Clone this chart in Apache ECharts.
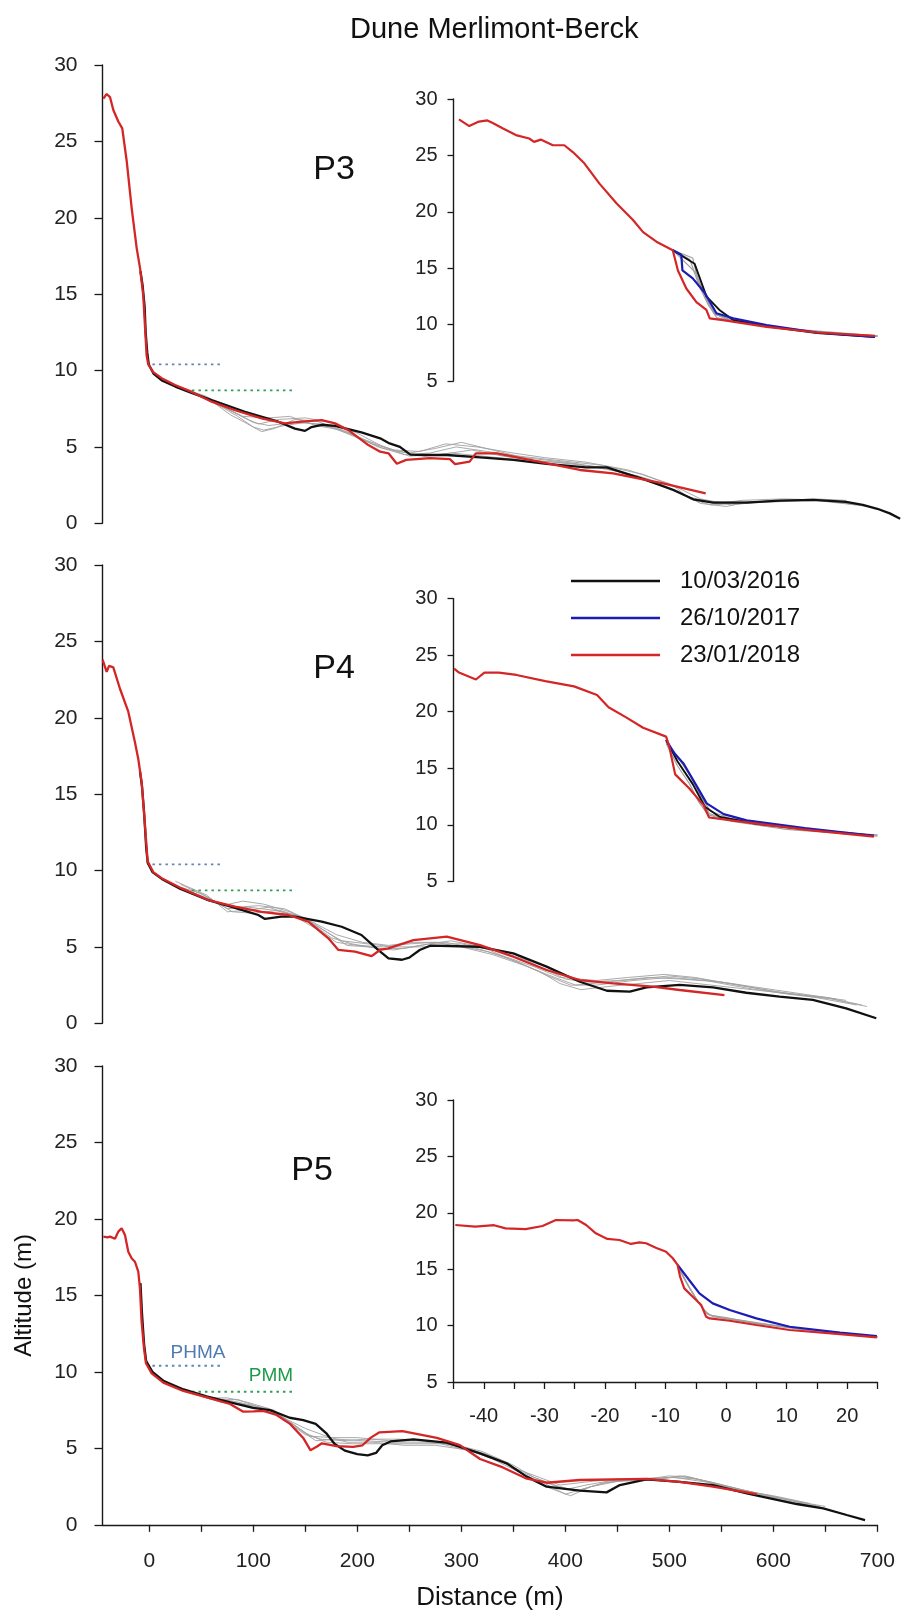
<!DOCTYPE html>
<html><head><meta charset="utf-8">
<script src="https://cdn.jsdelivr.net/npm/echarts@6/dist/echarts.min.js"></script>
<style>html,body{margin:0;padding:0;background:#fff}#chart{width:901px;height:1614px}</style>
</head><body><div id="chart"></div>
<script>
// ---------------- DATA ----------------
const chartTitle = 'Dune Merlimont-Berck';
const dates = ['10/03/2016', '26/10/2017', '23/01/2018'];
const panelNames = ['P3', 'P4', 'P5'];
const mainXTicks = [0, 50, 100, 150, 200, 250, 300, 350, 400, 450, 500, 550, 600, 650, 700];
const mainXLabels = [0, 100, 200, 300, 400, 500, 600, 700];
const xAxisTitle = 'Distance (m)';
const yAxisTitle = 'Altitude (m)';
const phmaName = 'PHMA', pmmName = 'PMM';
const phmaLevel = 10.4, pmmLevel = 8.7;
const phmaSpan = [3, 71];
const pmmSpan = [41, 140];

// P3 main
const p3Red = [[-44.2,27.8],[-41,28.1],[-37.8,27.9],[-34.6,27.05],[-29.8,26.3],[-26,25.85],[-21.7,23.7],[-16.9,20.6],[-12.1,18.0],[-8.9,16.7],[-5.8,14.9],[-2.6,11.0],[-1,10.4],[3.8,9.9],[11.9,9.5],[24.7,9.05],[40.8,8.6],[60,7.96],[82.4,7.4],[108,6.87],[130.5,6.54],[146.5,6.65],[165.8,6.76],[178.6,6.54],[191.4,6.1],[210.6,5.12],[222,4.69],[230,4.58],[238,3.9],[247,4.15],[270,4.26],[289,4.2],[294,3.87],[308,4.04],[314,4.58],[334,4.58],[366,4.15],[414,3.49],[446,3.27],[494,2.62],[535,1.96]];
const p3Black = [[-8.5,16.5],[-6.5,15.6],[-4.5,14.2],[-3.5,12.5],[-2,11.2],[-0.5,10.4],[4,9.8],[12,9.35],[25,8.95],[40,8.55],[60,8.06],[92,7.3],[124,6.65],[140,6.2],[149.7,6.05],[156,6.3],[165.8,6.45],[178.6,6.38],[204,5.95],[222,5.56],[231,5.23],[241,5.0],[251,4.5],[264,4.47],[286,4.47],[318,4.32],[350,4.15],[382,3.89],[420,3.66],[440,3.66],[478,2.83],[504,2.18],[523,1.57],[542,1.35],[574,1.35],[606,1.48],[638,1.53],[670,1.4],[686,1.2],[700,0.95],[712,0.65],[722,0.3]];
const p3Grey1 = [[20,9.2],[45,8.5],[70,7.6],[85,7.0],[100,6.3],[110,6.1],[130,6.4],[150,6.6],[175,6.3],[200,5.6],[225,4.9],[250,4.6],[275,4.9],[300,5.3],[330,4.8],[360,4.3],[400,4.0],[440,3.6],[480,2.9],[510,2.0],[530,1.3],[555,1.1],[575,1.4],[620,1.5],[660,1.5],[680,1.3]];
const p3Grey2 = [[30,8.9],[55,8.3],[80,7.3],[95,6.8],[105,6.5],[125,6.8],[150,6.9],[175,6.6],[200,5.9],[225,5.0],[250,4.4],[280,4.5],[310,4.8],[340,4.4],[370,4.1],[410,3.9],[450,3.4],[490,2.5],[520,1.7],[545,1.3],[570,1.5],[610,1.6],[650,1.5],[690,1.1]];
const p3Grey3 = [[35,8.8],[60,8.0],[78,7.1],[92,6.6],[108,6.0],[120,6.2],[140,6.8],[160,6.7],[190,6.0],[215,5.2],[240,4.7],[265,4.4],[290,4.6],[320,4.4],[350,4.2],[390,4.0],[430,3.7],[470,3.1],[505,2.2],[525,1.5],[550,1.4],[590,1.4],[640,1.6],[670,1.5]];
const p3Grey4 = [[40,8.6],[65,7.8],[90,7.0],[115,6.9],[135,7.0],[160,6.4],[185,6.1],[210,5.4],[235,4.8],[260,4.7],[285,5.2],[315,5.0],[350,4.6],[380,4.3],[420,4.0],[460,3.5],[500,2.6],[530,1.6],[560,1.2],[600,1.5],[640,1.5],[680,1.2]];
const p3Grey5 = [[25,9.0],[50,8.4],[75,7.5],[100,6.6],[115,6.4],[140,6.6],[165,6.5],[195,5.8],[220,5.0],[245,4.5],[270,4.6],[295,5.0],[325,4.7],[355,4.4],[395,4.1],[435,3.8],[475,3.2],[505,2.4],[520,1.6],[540,1.2],[565,1.3],[600,1.4],[645,1.5],[685,1.2]];

// P3 inset
const p3InRed = [[-44.1,28.2],[-42.4,27.6],[-40.8,28.0],[-39.4,28.1],[-38.6,27.9],[-36.9,27.4],[-34.7,26.8],[-32.5,26.5],[-31.7,26.2],[-30.6,26.4],[-28.6,25.9],[-26.7,25.9],[-25.3,25.3],[-23.4,24.3],[-20.9,22.5],[-18.1,20.75],[-15.4,19.3],[-13.7,18.2],[-11.5,17.35],[-8.8,16.6],[-7.95,14.8],[-6.56,13.2],[-4.9,12.0],[-3.25,11.3],[-2.7,10.55],[-0.5,10.4],[6.7,9.8],[15,9.3],[24.6,9.0]];
const p3InBlue = [[-8.8,16.6],[-7.4,16.2],[-7.2,14.8],[-5.5,14.1],[-3.5,12.8],[-1.6,11.0],[1.2,10.55],[6.7,9.96],[15,9.3],[24.6,8.9]];
const p3InBlack = [[-8.8,16.6],[-5.2,15.4],[-3.25,12.5],[-1.1,11.3],[1.2,10.4],[6.7,9.85],[15,9.25],[24.6,8.9]];
const p3InGrey1 = [[-8.8,16.6],[-6,15.8],[-4.5,13.5],[-3,11.8],[-1.5,10.6],[3,10.2],[10,9.6],[18,9.2],[25,9.0]];
const p3InGrey2 = [[-8.8,16.6],[-5,14.6],[-3.5,12.5],[-2,11.0],[0,10.5],[8,9.8],[16,9.3],[25,8.95]];
const p3InGrey3 = [[-8.8,16.6],[-5.5,15.9],[-4.7,14.0],[-3.2,12.3],[-1.8,10.9],[1,10.4],[9,9.7],[25,9.0]];

// P4 main
const p4Red = [[-44.9,23.8],[-44.2,23.7],[-41,23.0],[-38.7,23.4],[-34.6,23.3],[-28.2,21.9],[-20.2,20.4],[-13.8,18.4],[-10.6,17.3],[-7.4,15.8],[-4.2,13.0],[-1.6,10.6],[3.8,9.9],[11.9,9.5],[31.2,8.83],[56.8,8.07],[82.4,7.63],[108,7.3],[133.7,7.09],[152.9,6.65],[172.2,5.56],[181.8,4.8],[197.8,4.69],[213.8,4.4],[221.8,4.8],[229.8,4.91],[254,5.45],[286,5.67],[318,5.12],[350,4.36],[382,3.49],[414,2.83],[446,2.62],[484,2.4],[510,2.18],[553,1.85]];
const p4Black = [[-9,16.5],[-7,15.5],[-5,13.8],[-3,11.5],[-1.5,10.5],[3,9.9],[12,9.45],[30,8.8],[55,8.1],[80,7.6],[95,7.3],[104.8,7.09],[111.2,6.83],[127,6.98],[140,6.98],[165.8,6.65],[185,6.32],[204,5.78],[220,4.8],[230,4.25],[243,4.16],[250,4.3],[260,4.8],[270,5.08],[318,5.01],[350,4.58],[382,3.71],[414,2.72],[440,2.13],[462,2.07],[478,2.35],[510,2.51],[542,2.35],[574,2.0],[606,1.74],[638,1.53],[670,0.98],[699,0.33]];
const p4Grey1 = [[25,9.3],[35,9.0],[55,8.4],[75,7.3],[95,7.4],[115,7.6],[140,7.0],[160,6.2],[180,5.3],[200,5.1],[225,5.0],[250,5.2],[275,5.3],[300,5.0],[330,4.5],[360,3.8],[390,3.0],[410,2.5],[440,2.7],[470,2.9],[500,3.1],[530,2.9],[560,2.6],[600,2.1],[640,1.7],[680,1.2]];
const p4Grey2 = [[30,8.9],[50,8.5],[70,7.7],[90,8.0],[110,7.8],[135,7.3],[155,6.6],[175,5.6],[195,5.2],[220,4.9],[245,4.9],[270,5.2],[300,5.2],[330,4.8],[360,4.2],[385,3.4],[400,2.9],[420,2.7],[450,2.8],[480,3.0],[510,2.9],[550,2.7],[590,2.3],[630,1.9],[670,1.5]];
const p4Grey3 = [[40,8.6],[60,8.1],[80,7.3],[100,7.2],[125,7.4],[150,6.9],[170,6.0],[190,5.1],[210,5.0],[235,4.8],[260,5.1],[290,5.4],[320,5.0],[350,4.1],[375,3.4],[395,2.6],[415,2.2],[440,2.4],[470,2.6],[500,2.8],[540,2.5],[580,2.2],[620,1.9],[660,1.6]];
const p4Grey4 = [[45,8.4],[65,7.9],[85,7.6],[105,7.7],[130,7.5],[155,6.7],[180,5.8],[205,5.3],[230,5.1],[255,5.3],[285,5.3],[315,4.9],[345,4.3],[370,3.7],[395,3.0],[430,2.8],[460,3.0],[495,3.2],[525,3.0],[565,2.5],[610,2.0],[650,1.7],[685,1.2]];
const p4Grey5 = [[30,9.1],[55,8.3],[75,7.5],[95,7.6],[120,7.4],[145,7.0],[165,6.2],[185,5.4],[210,5.2],[235,5.0],[265,5.0],[295,5.1],[325,4.7],[355,4.0],[380,3.2],[405,2.5],[430,2.5],[465,2.8],[500,3.0],[535,2.8],[575,2.3],[615,1.9],[655,1.6],[690,1.1]];

// P4 inset
const p4InRed = [[-44.9,23.8],[-44.1,23.46],[-41.3,22.85],[-39.9,23.46],[-37.5,23.46],[-34.6,23.25],[-29.85,22.7],[-25.1,22.24],[-21.3,21.48],[-19.4,20.4],[-16.5,19.5],[-13.7,18.58],[-9.9,17.8],[-9.4,16.96],[-8.4,14.46],[-6.1,13.24],[-3.7,11.72],[-2.8,10.65],[1.5,10.35],[13,9.58],[24.4,8.96]];
const p4InBlue = [[-9.9,17.5],[-8.5,16.3],[-7,15.4],[-4.6,13.2],[-3.2,11.9],[-0.4,10.95],[3.4,10.4],[13,9.72],[24.4,9.02]];
const p4InBlack = [[-9.9,17.5],[-8,15.6],[-5.5,13.6],[-3.5,11.6],[-1,10.7],[5,10.1],[15,9.5],[24.4,9.05]];
const p4InGrey1 = [[-9.9,17.3],[-7.5,15.6],[-5.5,14.0],[-4,12.3],[-2.8,11.0],[0,10.5],[8,9.9],[16,9.4],[25,9.1]];
const p4InGrey2 = [[-9.9,17.2],[-8,15.2],[-6,13.6],[-4.5,12.0],[-3,10.9],[1,10.3],[10,9.6],[25,9.0]];
const p4InGrey3 = [[-9.9,17.4],[-7.8,15.9],[-6.2,14.6],[-4.2,12.6],[-2.6,11.2],[0.5,10.6],[10,9.8],[25,9.1]];

// P5 main
const p5Red = [[-44.2,18.84],[-40,18.8],[-37.8,18.84],[-33,18.7],[-29.8,19.17],[-26.6,19.39],[-23.4,18.95],[-20.2,17.86],[-17,17.43],[-13.8,17.2],[-10.6,16.55],[-9,15.47],[-7.4,13.28],[-5.1,11.54],[-3.2,10.56],[2.3,9.9],[13.5,9.3],[32.7,8.75],[52,8.4],[77.6,7.9],[90.4,7.4],[100,7.42],[109.6,7.45],[122.4,7.18],[135.3,6.6],[148,5.68],[154.9,4.88],[160.9,5.1],[166,5.33],[180,5.15],[196,5.1],[205,5.2],[213,5.7],[221.3,6.05],[243.4,6.13],[276.5,5.68],[298.6,5.21],[318,4.3],[340,3.75],[362,3.04],[382,2.75],[414,2.93],[478,3.0],[510,2.81],[542,2.49],[584,2.01]];
const p5Black = [[-8.5,15.8],[-7,13.8],[-5,11.8],[-3,10.7],[3,10.0],[14,9.4],[33,8.85],[55,8.4],[78,8.0],[99.7,7.65],[116.2,7.5],[135,7.0],[148,6.85],[160,6.6],[170,6.0],[178,5.3],[188,4.85],[200,4.62],[210,4.54],[218,4.7],[224,5.2],[232,5.45],[254,5.59],[286,5.37],[318,4.67],[343.6,4.02],[362.8,3.15],[382,2.49],[414,2.23],[439.7,2.12],[452.5,2.6],[478,2.97],[510,2.81],[542,2.6],[574.5,2.06],[622.5,1.36],[648,1.08],[670.6,0.64],[688.2,0.31]];
const p5Grey1 = [[40,8.6],[60,8.2],[80,8.1],[100,7.8],[120,7.5],[135,6.6],[150,5.9],[165,5.6],[185,5.5],[210,5.6],[240,5.6],[270,5.5],[300,5.1],[330,4.3],[360,3.3],[380,2.7],[400,2.0],[415,2.3],[440,2.8],[470,2.9],[500,3.2],[520,3.1],[550,2.6],[580,2.1],[610,1.6],[640,1.2]];
const p5Grey2 = [[45,8.5],[65,8.2],[85,8.2],[105,7.7],[125,7.2],[145,6.2],[160,5.5],[180,5.6],[205,5.5],[235,5.4],[265,5.4],[295,5.2],[325,4.6],[355,3.6],[375,3.1],[395,2.6],[420,2.8],[450,3.0],[480,2.9],[510,3.2],[540,2.8],[570,2.3],[600,1.8],[630,1.4]];
const p5Grey3 = [[50,8.4],[70,8.0],[90,7.9],[110,7.6],[130,7.0],[150,6.0],[170,5.4],[195,5.3],[220,5.3],[250,5.3],[280,5.3],[310,4.8],[340,4.1],[365,3.1],[385,2.4],[405,1.9],[425,2.5],[455,2.9],[490,3.0],[515,3.2],[545,2.7],[575,2.2],[610,1.7],[645,1.2]];
const p5Grey4 = [[40,8.7],[60,8.3],[75,8.3],[95,8.0],[115,7.6],[140,6.5],[155,5.8],[175,5.7],[200,5.7],[230,5.5],[260,5.5],[290,5.3],[320,4.8],[350,3.9],[370,3.1],[390,2.6],[410,2.2],[435,2.7],[465,3.0],[500,3.1],[525,3.0],[555,2.5],[590,2.0],[625,1.5],[650,1.2]];
const p5Grey5 = [[55,8.3],[75,8.1],[95,7.8],[115,7.4],[135,6.8],[150,6.3],[170,5.8],[190,5.4],[215,5.4],[245,5.2],[275,5.2],[305,4.9],[335,4.3],[360,3.4],[380,2.8],[400,2.3],[420,2.6],[445,2.9],[480,3.0],[505,3.1],[535,2.8],[565,2.3],[600,1.9],[635,1.4]];

// P5 inset
const p5InRed = [[-44.7,18.92],[-41.4,18.77],[-38.3,18.9],[-36.4,18.62],[-33.1,18.56],[-30.3,18.83],[-28.1,19.36],[-25.3,19.33],[-24.5,19.36],[-23.1,18.92],[-21.5,18.18],[-19.6,17.68],[-17.6,17.59],[-15.7,17.24],[-14.3,17.38],[-13.2,17.3],[-11.6,16.9],[-9.9,16.55],[-8.8,15.97],[-8.0,15.38],[-7.6,14.34],[-6.9,13.3],[-5.5,12.56],[-4.1,11.82],[-3.3,10.79],[-2.7,10.64],[0.6,10.43],[5.0,10.05],[10.5,9.61],[18.8,9.25],[24.9,8.96]];
const p5InBlue = [[-8.0,15.38],[-6.1,14.04],[-4.4,12.86],[-2.2,11.97],[0.6,11.38],[5.0,10.64],[10.5,9.9],[18.8,9.37],[24.9,9.08]];
const p5InGrey1 = [[-8,15.4],[-6.5,13.8],[-5,12.4],[-3.5,11.3],[-2.5,10.9],[0,10.7],[6,10.1],[15,9.5],[25,9.0]];
const p5InGrey2 = [[-7.5,14.8],[-6,13.3],[-4.5,12.0],[-3,11.0],[-1,10.7],[5,10.2],[25,9.0]];
const p5InGrey3 = [[-7.8,15.0],[-6.2,13.5],[-4.7,12.2],[-3.2,11.1],[-2.2,10.8],[2,10.5],[12,9.7],[25,9.0]];

// ---------------- STYLE / LAYOUT ----------------
const FONT = '"Liberation Sans", Arial, Helvetica, sans-serif';
const C_BLACK = '#111111', C_BLUE = '#1c1cb4', C_RED = '#d42626', C_GREY = '#a0a0a0';
const C_PHMA = '#5f86b3', C_PMM = '#2f9e57', C_PHMA_TXT = '#4f7bb0', C_PMM_TXT = '#1f9a4a';

// P3's hidden distance axis is stretched past 700 m so its last profile reaches the page edge, as in the source figure
const X_MIN = -45, X_MAX = 700, X_MAX_P3 = 722;
const PX_PER_M = 774.8 / (X_MAX - X_MIN);
const mainGrids = [
  {left: 102.5, top: 65, width: PX_PER_M * (X_MAX_P3 - X_MIN), height: 458.3},
  {left: 102.5, top: 565, width: 774.8, height: 458.3},
  {left: 102.5, top: 1066, width: 774.8, height: 458.8}
];
const insetGrids = [
  {left: 453.5, top: 99, width: 424, height: 282},
  {left: 453.5, top: 598.6, width: 424, height: 282.8},
  {left: 453.5, top: 1100, width: 424, height: 282}
];

const axisLineStyle = {lineStyle: {color: '#1a1a1a', width: 1.4}};
const grid = [];
mainGrids.concat(insetGrids).forEach(g => grid.push(Object.assign({containLabel: false, outerBoundsMode: 'none'}, g)));

const xAxis = [], yAxis = [];
for (let i = 0; i < 3; i++) {
  const isLast = i === 2;
  xAxis.push({
    type: 'value', gridIndex: i, min: X_MIN, max: i === 0 ? X_MAX_P3 : X_MAX, show: isLast,
    splitLine: {show: false},
    axisLine: Object.assign({onZero: false}, axisLineStyle),
    axisTick: {show: true, length: 7, customValues: mainXTicks, lineStyle: {color: '#1a1a1a', width: 1.3}},
    axisLabel: {customValues: mainXLabels, margin: 26, fontSize: 21, color: '#222', fontFamily: FONT},
    name: isLast ? xAxisTitle : '', nameLocation: 'middle', nameGap: 60,
    nameTextStyle: {fontSize: 26, color: '#111', fontFamily: FONT}
  });
  yAxis.push({
    type: 'value', gridIndex: i, min: 0, max: 30, interval: 5,
    splitLine: {show: false},
    axisLine: Object.assign({show: true, onZero: false}, axisLineStyle),
    axisTick: {show: true, length: 8, lineStyle: {color: '#1a1a1a', width: 1.3}},
    axisLabel: {margin: 25, fontSize: 21, color: '#222', fontFamily: FONT},
    name: isLast ? yAxisTitle : '', nameLocation: 'middle', nameGap: 66, nameRotate: 90,
    nameTextStyle: {fontSize: 24, color: '#111', fontFamily: FONT}
  });
}
for (let i = 0; i < 3; i++) {
  const isLast = i === 2;
  xAxis.push({
    type: 'value', gridIndex: 3 + i, min: -45, max: 25, interval: 5, show: isLast,
    splitLine: {show: false},
    axisLine: Object.assign({onZero: false}, axisLineStyle),
    axisTick: {show: true, length: 7, lineStyle: {color: '#1a1a1a', width: 1.3}},
    axisLabel: {margin: 24, fontSize: 20, color: '#222', fontFamily: FONT,
      formatter: v => (Math.round(v) % 10 === 0 ? String(v) : '')}
  });
  yAxis.push({
    type: 'value', gridIndex: 3 + i, min: 5, max: 30, interval: 5,
    splitLine: {show: false},
    axisLine: Object.assign({show: true, onZero: false}, axisLineStyle),
    axisTick: {show: true, length: 6, lineStyle: {color: '#1a1a1a', width: 1.3}},
    axisLabel: {margin: 16, fontSize: 20, color: '#222', fontFamily: FONT}
  });
}

function ln(name, data, idx, color, width, z, extra) {
  return Object.assign({
    type: 'line', name: name, data: data, xAxisIndex: idx, yAxisIndex: idx,
    showSymbol: false, symbol: 'none', silent: true, animation: false,
    lineStyle: {color: color, width: width}, itemStyle: {color: color},
    emphasis: {disabled: true}, z: z
  }, extra || {});
}

const mainSets = [
  {grey: [p3Grey1, p3Grey2, p3Grey3, p3Grey4, p3Grey5], black: p3Black, red: p3Red},
  {grey: [p4Grey1, p4Grey2, p4Grey3, p4Grey4, p4Grey5], black: p4Black, red: p4Red},
  {grey: [p5Grey1, p5Grey2, p5Grey3, p5Grey4, p5Grey5], black: p5Black, red: p5Red}
];
const insetSets = [
  {grey: [p3InGrey1, p3InGrey2, p3InGrey3], black: p3InBlack, blue: p3InBlue, red: p3InRed},
  {grey: [p4InGrey1, p4InGrey2, p4InGrey3], black: p4InBlack, blue: p4InBlue, red: p4InRed},
  {grey: [p5InGrey1, p5InGrey2, p5InGrey3], black: null, blue: p5InBlue, red: p5InRed}
];

const series = [];
mainSets.forEach((s, i) => {
  s.grey.forEach(g => series.push(ln('survey', g, i, C_GREY, 0.9, 2)));
  series.push(ln('PHMA-line', [[phmaSpan[0], phmaLevel], [phmaSpan[1], phmaLevel]], i, C_PHMA, 1.8, 3,
    {lineStyle: {color: C_PHMA, width: 1.8, type: [2.5, 4]}}));
  series.push(ln('PMM-line', [[pmmSpan[0], pmmLevel], [pmmSpan[1], pmmLevel]], i, C_PMM, 1.8, 3,
    {lineStyle: {color: C_PMM, width: 1.8, type: [2.5, 4]}}));
  series.push(ln(dates[0], s.black, i, C_BLACK, 2.3, 4));
  series.push(ln(dates[2], s.red, i, C_RED, 2.3, 6));
});
insetSets.forEach((s, i) => {
  const idx = 3 + i;
  s.grey.forEach(g => series.push(ln('survey', g, idx, C_GREY, 1.2, 2)));
  if (s.black) series.push(ln(dates[0], s.black, idx, C_BLACK, 1.9, 4));
  series.push(ln(dates[1], s.blue, idx, C_BLUE, 2.2, 5));
  series.push(ln(dates[2], s.red, idx, C_RED, 2.2, 6));
});

const panelLabelPos = [[334, 170], [334, 669], [312, 1171]];
const graphic = panelNames.map((n, i) => ({
  type: 'text', x: panelLabelPos[i][0], y: panelLabelPos[i][1], silent: true,
  style: {text: n, fill: '#111', font: '34px ' + FONT, textAlign: 'center', textVerticalAlign: 'middle'}
}));
graphic.push({type: 'text', x: 198, y: 1353, silent: true,
  style: {text: phmaName, fill: C_PHMA_TXT, font: '19px ' + FONT, textAlign: 'center', textVerticalAlign: 'middle'}});
graphic.push({type: 'text', x: 271, y: 1376, silent: true,
  style: {text: pmmName, fill: C_PMM_TXT, font: '19px ' + FONT, textAlign: 'center', textVerticalAlign: 'middle'}});

const chart = echarts.init(document.getElementById('chart'), null, {renderer: 'canvas'});
chart.setOption({
  backgroundColor: '#ffffff',
  animation: false,
  title: {text: chartTitle, left: 345, top: 10,
    textStyle: {fontSize: 29, fontWeight: 'normal', color: '#111', fontFamily: FONT}},
  legend: {
    data: dates, orient: 'vertical', left: 566, top: 564, itemGap: 13,
    icon: 'rect', itemWidth: 89, itemHeight: 2.5, selectedMode: false,
    textStyle: {fontSize: 24, color: '#111', fontFamily: FONT, padding: [0, 0, 0, 15]}
  },
  grid: grid, xAxis: xAxis, yAxis: yAxis, series: series, graphic: graphic
});
</script></body></html>
